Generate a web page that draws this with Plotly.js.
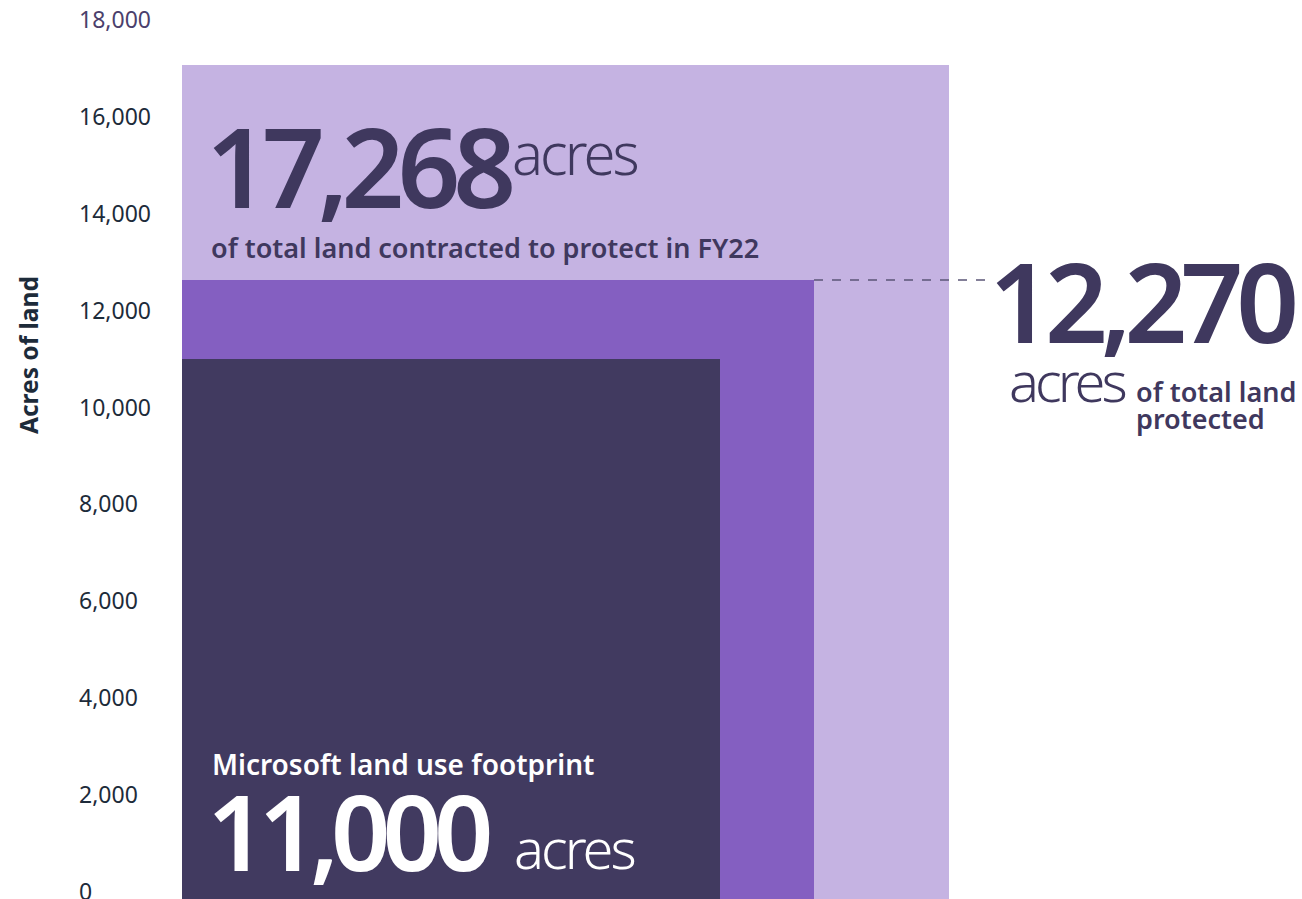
<!DOCTYPE html>
<html>
<head>
<meta charset="utf-8">
<script src="https://cdn.plot.ly/plotly-3.0.1.min.js"></script>
<style>
html,body{margin:0;padding:0;background:#ffffff;}
#chart{width:1302px;height:899px;}
</style>
</head>
<body>
<div id="chart"></div>
<script>
// ---- data ----
const categories = ['Total land contracted to protect in FY22', 'Total land protected', 'Microsoft land use footprint'];
const labelValues = [17268, 12270, 11000];        // acres as printed on the chart
const barHeights = [17070, 12630, 11000];         // bar tops as drawn against the axis
const barWidths = [767, 632, 538];                // relative widths of the nested blocks
const barColors = ['#c5b3e2', '#845fc1', '#413a60'];
const tickValues = [0, 2000, 4000, 6000, 8000, 10000, 12000, 14000, 16000, 18000];
const tickLabels = ['0', '2,000', '4,000', '6,000', '8,000', '10,000', '12,000', '14,000', '16,000', '18,000'];
const yTitle = 'Acres of land';
const subTexts = ['of total land contracted to protect in FY22', 'of total land', 'protected', 'Microsoft land use footprint'];
const unitText = 'acres';

// ---- layout geometry ----
const W = 1302, H = 899;
const M = {l: 75, r: 0, t: 20, b: 0};
const plotLeftPx = 182;
const axisFloor = -150, axisTop = 18000;
const pw = W - M.l - M.r, ph = H - M.t - M.b;
const xp = px => (px - M.l) / pw;          // pixel -> paper x
const yp = py => (H - M.b - py) / ph;       // pixel -> paper y

const FONT = '"Noto Sans", "Open Sans", sans-serif';
const DARK = '#3f385e';
const fmt = v => v.toLocaleString('en-US');
const tight = (t, ls) => '<span style="letter-spacing:' + ls + 'px">' + t + '</span>';

const ticktext = tickLabels.map((t, i) => i === tickLabels.length - 1 ? '<span style="fill:#4b3f6c">' + t + '</span>' : t);

const trace = {
  type: 'bar',
  x: [0, 0, 0],
  y: barHeights.map(v => v - axisFloor),
  base: [axisFloor, axisFloor, axisFloor],
  width: barWidths,
  offset: 0,
  text: categories,
  textposition: 'none',
  marker: {color: barColors, line: {width: 0}},
  hoverinfo: 'skip',
  showlegend: false
};

function ann(text, x, y, size, weight, color, extra) {
  return Object.assign({
    text: text, xref: 'paper', yref: 'paper', x: xp(x), y: yp(y),
    xanchor: 'left', yanchor: 'middle', showarrow: false,
    font: {family: FONT, size: size, weight: weight, color: color}
  }, extra || {});
}

const annotations = [
  ann(tight(fmt(labelValues[0]), -7), 204, 165, 110, 600, DARK),
  ann(tight(unitText, -3), 510, 153, 58, 300, DARK),
  ann(subTexts[0], 209, 247, 27, 600, DARK),
  ann(tight(fmt(labelValues[1]), -7), 987, 300, 110, 600, DARK),
  ann(tight(unitText, -4), 1007, 380, 56, 300, DARK),
  ann(subTexts[1], 1134, 391, 27, 600, DARK),
  ann(subTexts[2], 1134, 418, 27, 600, DARK),
  ann(subTexts[3], 210, 764, 28, 600, '#ffffff'),
  ann(tight(fmt(labelValues[2]), -8), 205, 830, 104, 600, '#ffffff'),
  ann(tight(unitText, -3), 512, 847, 56, 300, '#ffffff'),
  ann(yTitle, 28, 355, 24.5, 700, '#1d2b3a', {xanchor: 'center', textangle: -90})
];

const shapes = [{
  type: 'line', xref: 'x', yref: 'y',
  x0: barWidths[1], x1: 990 - plotLeftPx,
  y0: barHeights[1], y1: barHeights[1],
  line: {color: '#5b5577', width: 1.5, dash: 'dash'}
}];

const layout = {
  width: W, height: H,
  margin: M,
  paper_bgcolor: '#ffffff', plot_bgcolor: 'rgba(0,0,0,0)',
  font: {family: FONT, color: '#1d2b3a'},
  showlegend: false,
  bargap: 0,
  xaxis: {domain: [xp(plotLeftPx), 1], range: [0, pw * (1 - xp(plotLeftPx))], visible: false, fixedrange: true},
  yaxis: {
    range: [axisFloor, axisTop], anchor: 'free', position: 0, side: 'left',
    tickmode: 'array', tickvals: tickValues, ticktext: ticktext,
    ticklabelposition: 'inside', ticklabeloverflow: 'allow', ticks: '',
    showgrid: false, zeroline: false, showline: false, fixedrange: true,
    tickfont: {family: FONT, size: 23, color: '#1d2b3a'}
  },
  annotations: annotations,
  shapes: shapes
};

Plotly.newPlot('chart', [trace], layout, {displayModeBar: false, staticPlot: true});
</script>
</body>
</html>
